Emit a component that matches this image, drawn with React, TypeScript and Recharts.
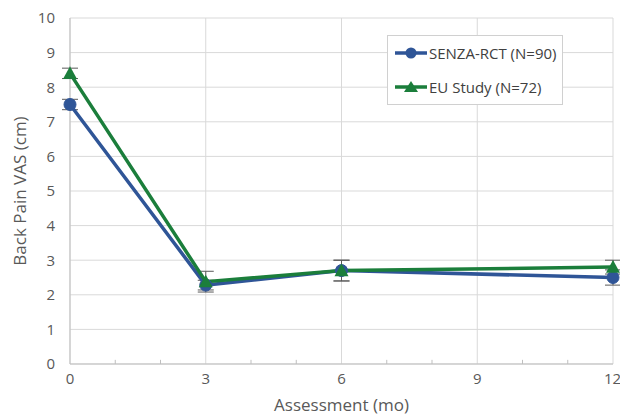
import React from 'react'
import {
  LineChart,
  Line,
  XAxis,
  YAxis,
  CartesianGrid,
  ErrorBar,
  ReferenceLine,
} from 'recharts'

// Assessment months and VAS values
const months = [0, 3, 6, 12]
const senzaVas = [7.5, 2.28, 2.7, 2.5]
const senzaErr = [0.15, 0.14, 0.3, 0.22]
const euVas = [8.4, 2.38, 2.7, 2.8]
const euErr = [0.15, 0.3, 0.3, 0.2]

const xTicks = [0, 3, 6, 9, 12]
const yTicks = [0, 1, 2, 3, 4, 5, 6, 7, 8, 9, 10]
const minorTicks = [1, 2, 4, 5, 7, 8, 10, 11]

const BLUE = '#2f5597'
const GREEN = '#1b7e3b'
const FONT = '"Open Sans", "Liberation Sans", sans-serif'

const data = months.map((m, i) => ({
  month: m,
  senza: senzaVas[i],
  senzaErr: senzaErr[i],
  eu: euVas[i],
  euErr: euErr[i],
}))

const CircleDot = (props: any) => {
  const { cx, cy } = props
  if (cx == null || cy == null) return null
  return <circle cx={cx} cy={cy} r={6} fill={BLUE} stroke={BLUE} />
}

const TriangleDot = (props: any) => {
  const { cx, cy } = props
  if (cx == null || cy == null) return null
  const s = 7
  return (
    <polygon
      points={`${cx},${cy - s} ${cx - s},${cy + s * 0.8} ${cx + s},${cy + s * 0.8}`}
      fill={GREEN}
    />
  )
}

function LegendBox() {
  const row = (color: string, label: string, tri: boolean) => (
    <div style={{ display: 'flex', alignItems: 'center', height: 37 }}>
      <svg width={32} height={14} style={{ marginRight: 2 }}>
        <line x1={0} y1={7} x2={32} y2={7} stroke={color} strokeWidth={3.5} />
        {tri ? (
          <polygon points="16,1 9,12 23,12" fill={color} />
        ) : (
          <circle cx={16} cy={7} r={5.5} fill={color} />
        )}
      </svg>
      <span>{label}</span>
    </div>
  )
  return (
    <div
      style={{
        position: 'absolute',
        left: 387,
        top: 35,
        width: 176,
        height: 70,
        border: '1px solid #d0d0d0',
        background: '#fff',
        fontFamily: FONT,
        fontSize: 15,
        color: '#404040',
        paddingLeft: 7,
        boxSizing: 'border-box',
        display: 'flex',
        flexDirection: 'column',
        justifyContent: 'center',
      }}
    >
      {row(BLUE, 'SENZA-RCT (N=90)', false)}
      {row(GREEN, 'EU Study (N=72)', true)}
    </div>
  )
}

export default function App() {
  return (
    <div style={{ position: 'absolute', left: 0, top: 0, width: 620, height: 416, background: '#fff' }}>
      <LineChart
        width={620}
        height={416}
        data={data}
        margin={{ top: 18, right: 7, bottom: 0, left: 0 }}
      >
        <CartesianGrid stroke="#d9d9d9" />
        <XAxis
          dataKey="month"
          type="number"
          domain={[0, 12]}
          ticks={xTicks}
          height={52}
          axisLine={{ stroke: '#bfbfbf' }}
          tickLine={false}
          tickSize={0}
          tickMargin={9}
          tick={{ fill: '#595959', fontSize: 15, fontFamily: FONT }}
          label={{
            value: 'Assessment (mo)',
            position: 'insideBottom',
            offset: 5,
            fill: '#595959',
            fontSize: 17,
            fontFamily: FONT,
          }}
        />
        <YAxis
          type="number"
          domain={[0, 10]}
          ticks={yTicks}
          width={70}
          axisLine={{ stroke: '#bfbfbf' }}
          tickLine={false}
          tickSize={0}
          tickMargin={15}
          tick={{ fill: '#595959', fontSize: 15, fontFamily: FONT }}
          label={{
            value: 'Back Pain VAS (cm)',
            angle: -90,
            position: 'insideLeft',
            offset: 20,
            fill: '#595959',
            fontSize: 17,
            fontFamily: FONT,
            style: { textAnchor: 'middle' },
          }}
        />
        {minorTicks.map((m) => (
          <ReferenceLine
            key={m}
            segment={[
              { x: m, y: 0 },
              { x: m, y: 0.12 },
            ]}
            stroke="#bfbfbf"
          />
        ))}
        <Line
          dataKey="senza"
          stroke={BLUE}
          strokeWidth={3.5}
          dot={<CircleDot />}
          activeDot={false}
          isAnimationActive={false}
        >
          <ErrorBar dataKey="senzaErr" width={8} stroke="#595959" strokeWidth={1} direction="y" />
        </Line>
        <Line
          dataKey="eu"
          stroke={GREEN}
          strokeWidth={3.5}
          dot={<TriangleDot />}
          activeDot={false}
          isAnimationActive={false}
        >
          <ErrorBar dataKey="euErr" width={8} stroke="#595959" strokeWidth={1} direction="y" />
        </Line>
      </LineChart>
      <LegendBox />
    </div>
  )
}
